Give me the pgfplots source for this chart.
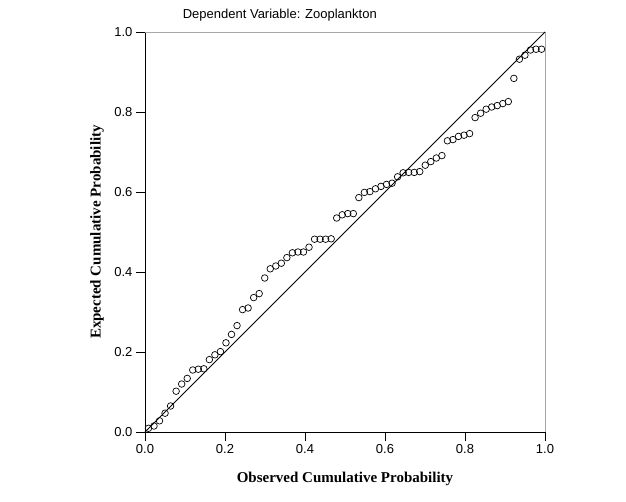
\documentclass[border=0pt]{standalone}
\usepackage{fontspec}
\setmainfont{Liberation Sans}
\newfontfamily\timesfont{Liberation Serif}
\usepackage{pgfplots}
\pgfplotsset{compat=1.18}
\begin{document}
\begin{tikzpicture}[x=1pt,y=1pt]
\path[use as bounding box] (0,0) rectangle (626,501);
\begin{axis}[
  at={(145pt,69pt)}, anchor=south west,
  width=400pt, height=400pt, scale only axis,
  xmin=0, xmax=1, ymin=0, ymax=1,
  axis lines*=left,
  axis line style={black, line width=0.8pt},
  tick align=outside,
  major tick length=9pt,
  tick style={black, line width=0.8pt},
  xtick={0,0.2,0.4,0.6,0.8,1},
  ytick={0,0.2,0.4,0.6,0.8,1},
  xticklabel style={/pgf/number format/fixed,/pgf/number format/precision=1,/pgf/number format/fixed zerofill},
  yticklabel style={/pgf/number format/fixed,/pgf/number format/precision=1,/pgf/number format/fixed zerofill},
  /pgf/number format/assume math mode=true,
  tick label style={font=\fontsize{13}{15}\selectfont},
  title={Dependent Variable: Zooplankton},
  title style={at={(axis description cs:0.337,1)}, anchor=center, yshift=11pt, font=\fontsize{13}{15}\selectfont},
  xlabel={Observed Cumulative Probability},
  ylabel={Expected Cumulative Probability},
  xlabel style={at={(axis description cs:0.5,-0.1175)}, anchor=center, font=\timesfont\bfseries\fontsize{15}{17}\selectfont},
  ylabel style={at={(axis description cs:-0.12,0.5)}, anchor=center, font=\timesfont\bfseries\fontsize{15}{17}\selectfont},
  clip=false,
]
\draw[gray!70, line width=0.8pt] (rel axis cs:0,1) -- (rel axis cs:1,1) -- (rel axis cs:1,0);
\addplot[black, line width=0.8pt] coordinates {(0,0) (1,1)};
\addplot[only marks, mark=o, mark size=3.3pt, mark options={black, line width=0.7pt}] coordinates {
(0.00865,0.0093) (0.02249,0.015) (0.03633,0.028) (0.05017,0.047) (0.06401,0.065)
(0.07785,0.102) (0.09170,0.120) (0.10554,0.134) (0.11938,0.155) (0.13322,0.157)
(0.14706,0.158) (0.16090,0.181) (0.17474,0.193) (0.18858,0.201) (0.20242,0.223)
(0.21626,0.244) (0.23010,0.266) (0.24394,0.306) (0.25779,0.310) (0.27163,0.336)
(0.28547,0.346) (0.29931,0.385) (0.31315,0.408) (0.32699,0.415) (0.34083,0.422)
(0.35467,0.436) (0.36851,0.448) (0.38235,0.450) (0.39619,0.450) (0.41003,0.462)
(0.42388,0.482) (0.43772,0.482) (0.45156,0.482) (0.46540,0.483) (0.47924,0.535)
(0.49308,0.543) (0.50692,0.546) (0.52076,0.546) (0.53460,0.586) (0.54844,0.599)
(0.56228,0.601) (0.57612,0.608) (0.58997,0.614) (0.60381,0.619) (0.61765,0.622)
(0.63149,0.638) (0.64533,0.648) (0.65917,0.649) (0.67301,0.649) (0.68685,0.651)
(0.70069,0.667) (0.71453,0.676) (0.72837,0.685) (0.74221,0.691) (0.75606,0.728)
(0.76990,0.731) (0.78374,0.739) (0.79758,0.742) (0.81142,0.746) (0.82526,0.786)
(0.83910,0.797) (0.85294,0.807) (0.86678,0.8125) (0.88062,0.816) (0.89446,0.821)
(0.90830,0.826) (0.92215,0.884) (0.93599,0.932) (0.94983,0.942) (0.96367,0.955)
(0.97751,0.957) (0.99135,0.957)
};
\end{axis}
\end{tikzpicture}
\end{document}
